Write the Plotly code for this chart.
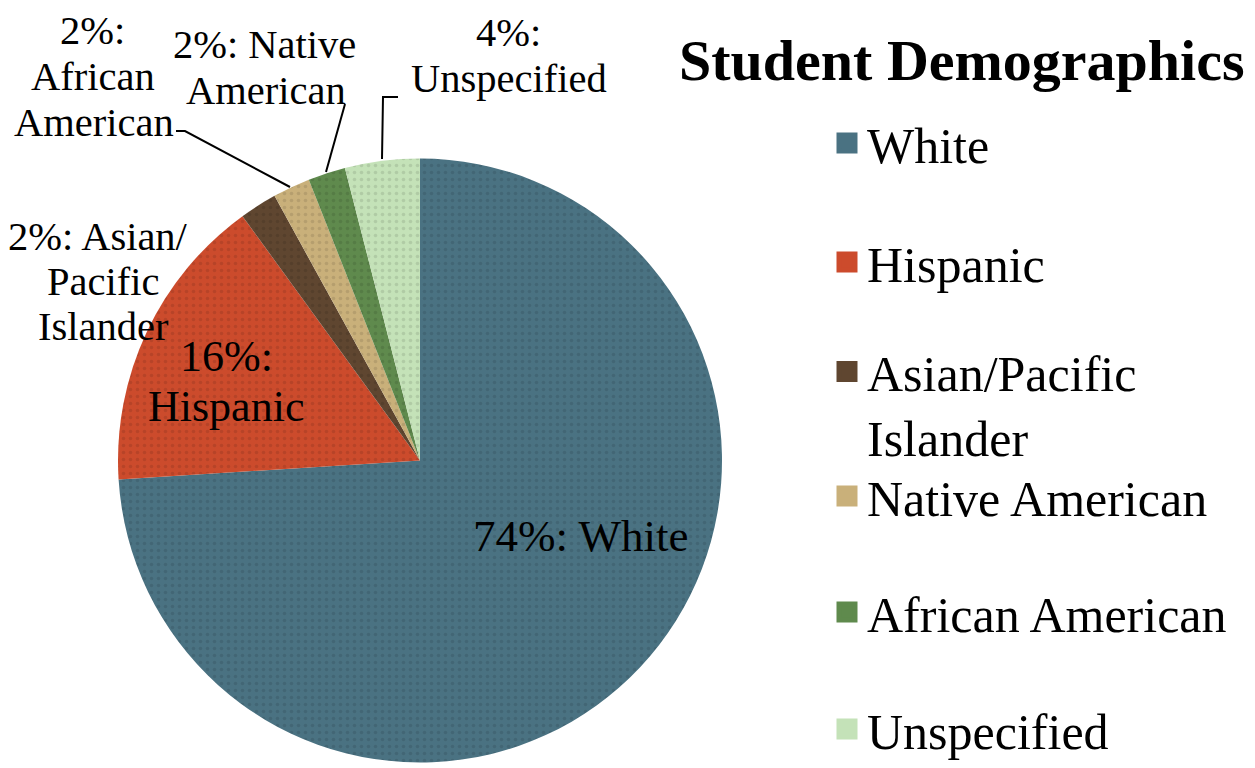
import plotly.graph_objects as go

# ---- data ----
categories = ["White", "Hispanic", "Asian/Pacific Islander", "Native American",
              "African American", "Unspecified"]
percentages = [74, 16, 2, 2, 2, 4]
legend_labels = ["White", "Hispanic", "Asian/Pacific<br>Islander", "Native American",
                 "African American", "Unspecified"]
slice_colors = ["#4a7282", "#cc4b2c", "#5f4630", "#c9b07a", "#5f8a4d", "#c4e2b8"]
title_text = "Student Demographics"

# data-label text lines (as wrapped in the original)
data_label_lines = [
    [f"{percentages[0]}%: White"],
    [f"{percentages[1]}%:", "Hispanic"],
    [f"{percentages[2]}%: Asian/", "Pacific", "Islander"],
    [f"{percentages[4]}%:", "African", "American"],
    [f"{percentages[3]}%: Native", "American"],
    [f"{percentages[5]}%:", "Unspecified"],
]

# ---- layout helpers (page pixel -> paper; the page body has an 8px margin) ----
W, H = 1255, 768
OFF = 8
def px(x): return (x - OFF) / W
def py(y): return 1 - (y - OFF) / H

SERIF = "Liberation Serif, Times New Roman, serif"

fig = go.Figure()
fig.add_trace(go.Pie(
    labels=categories, values=percentages, sort=False, direction="clockwise", rotation=0,
    marker=dict(colors=slice_colors, line=dict(width=0),
                pattern=dict(shape=".", fillmode="overlay", fgcolor="black",
                             fgopacity=0.10, size=7, solidity=0.2)),
    textinfo="none", hoverinfo="label+percent", showlegend=False,
    domain=dict(x=[px(118), px(722)], y=[py(762.5), py(158.5)]),
))

# legend entries (one legend each, to reproduce the spacing)
legend_centers = [143, 262, 404, 496, 612, 729]
layout_legends = {}
for i, (lab, col) in enumerate(zip(legend_labels, slice_colors)):
    name = "legend" if i == 0 else f"legend{i+1}"
    fig.add_trace(go.Scatter(
        x=[None], y=[None], mode="markers", name=lab,
        marker=dict(symbol="square", size=16, color=col, line=dict(color=col, width=5)),
        legend=name, showlegend=True, hoverinfo="skip",
    ))
    layout_legends[name] = dict(
        x=px(827), y=py(legend_centers[i]), xanchor="left", yanchor="middle",
        font=dict(family=SERIF, size=50, color="black"), bgcolor="rgba(0,0,0,0)",
        valign="top", borderwidth=0,
    )

# data labels (box centres in page pixels) and font sizes
label_pos = [
    [(580, 536)],
    [(226, 357), (226, 406)],
    [(98, 236), (103, 281.5), (103, 327)],
    [(92, 31), (93, 76.5), (94, 122)],
    [(264, 44.5), (266, 90.5)],
    [(508, 32), (509, 78)],
]
label_font = [45, 44, 40.5, 40.5, 40.5, 40.5]
annotations = []
for lines, poss, fs in zip(data_label_lines, label_pos, label_font):
    for t, (x, y) in zip(lines, poss):
        annotations.append(dict(text=t, x=px(x), y=py(y), xref="paper", yref="paper",
                                xanchor="center", yanchor="middle", showarrow=False,
                                borderpad=0,
                                font=dict(family=SERIF, size=fs, color="black")))
annotations.append(dict(text=f"<b>{title_text}</b>", x=px(962), y=py(60), xref="paper", yref="paper",
                        xanchor="center", yanchor="middle", showarrow=False,
                        font=dict(family=SERIF, size=58, color="black")))

# leader lines
def path(pts):
    return "M " + " L ".join(f"{px(x)} {py(y)}" for x, y in pts)
leaders = [
    [(176, 131), (185, 131), (290, 187)],
    [(345, 104), (326, 172)],
    [(398, 97), (383, 97), (382, 159)],
]
shapes = [dict(type="path", path=path(p), xref="paper", yref="paper",
               line=dict(color="black", width=2)) for p in leaders]

fig.update_layout(
    width=W, height=H, margin=dict(l=0, r=0, t=0, b=0, autoexpand=False),
    paper_bgcolor="white", plot_bgcolor="white",
    xaxis=dict(visible=False), yaxis=dict(visible=False),
    annotations=annotations, shapes=shapes,
    **layout_legends,
)
fig.write_html("out.html")
